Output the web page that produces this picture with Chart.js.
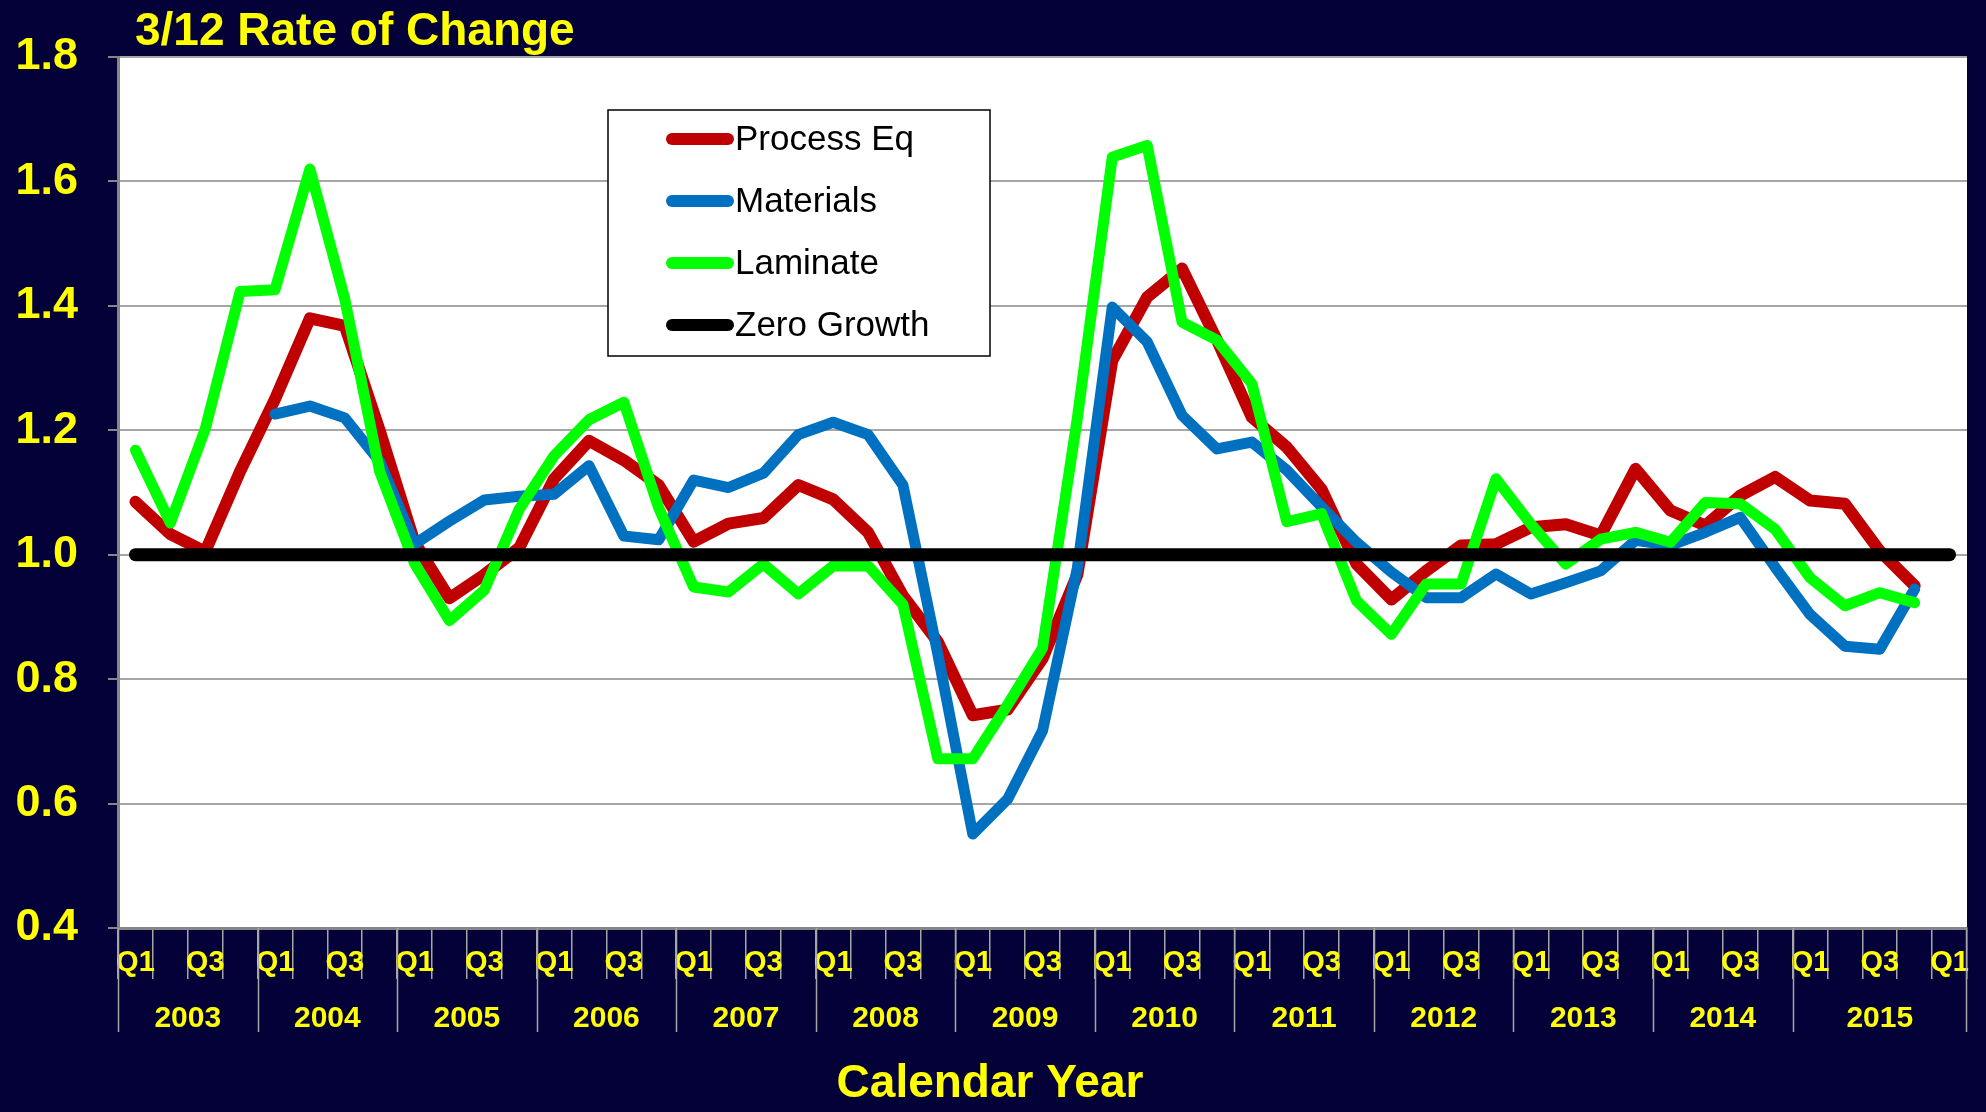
<!DOCTYPE html>
<html>
<head>
<meta charset="utf-8">
<title>3/12 Rate of Change</title>
<script src="https://cdn.jsdelivr.net/npm/chart.js@4.4.0/dist/chart.umd.min.js"></script>
<style>
  html, body { margin: 0; padding: 0; background: #040038; }
  #wrap { width: 1986px; height: 1112px; position: relative; }
</style>
</head>
<body>
<div id="wrap"><canvas id="rate-chart"></canvas></div>
<script>
const years = ['2003', '2004', '2005', '2006', '2007', '2008', '2009',
               '2010', '2011', '2012', '2013', '2014', '2015'];
const quarterNames = ['Q1', 'Q2', 'Q3', 'Q4'];
// last category is Q1 of the following year (grouped under 2015)
const extraQuarters = ['Q1'];

const processEq = [
    1.085, 1.033, 1.005, 1.134, 1.25, 1.38, 1.368, 1.20, 1.02, 0.93,
    0.968, 1.011, 1.122, 1.183, 1.152, 1.112, 1.021, 1.05, 1.059, 1.112,
    1.089, 1.036, 0.934, 0.86, 0.742, 0.751, 0.833, 0.968, 1.312, 1.414,
    1.46, 1.345, 1.221, 1.173, 1.105, 0.985, 0.928, 0.974, 1.015, 1.017,
    1.044, 1.049, 1.031, 1.138, 1.071, 1.047, 1.095, 1.125, 1.087, 1.082,
    1.006, 0.95, null
];
const materials = [
    null, null, null, null, 1.226, 1.239, 1.22, 1.15, 1.017, 1.054,
    1.088, 1.094, 1.097, 1.143, 1.03, 1.024, 1.12, 1.108, 1.131, 1.193,
    1.213, 1.193, 1.112, 0.84, 0.551, 0.607, 0.717, 0.979, 1.398, 1.342,
    1.224, 1.17, 1.181, 1.136, 1.077, 1.02, 0.972, 0.931, 0.931, 0.969,
    0.937, 0.955, 0.974, 1.023, 1.015, 1.036, 1.06, 0.98, 0.904, 0.853,
    0.848, 0.945, null
];
const laminate = [
    1.168, 1.051, 1.202, 1.423, 1.426, 1.62, 1.411, 1.134, 0.986, 0.894,
    0.943, 1.073, 1.159, 1.217, 1.245, 1.075, 0.948, 0.94, 0.985, 0.937,
    0.982, 0.982, 0.92, 0.672, 0.672, 0.759, 0.85, 1.22, 1.639, 1.658,
    1.374, 1.345, 1.275, 1.053, 1.066, 0.926, 0.872, 0.953, 0.953, 1.122,
    1.049, 0.985, 1.025, 1.036, 1.02, 1.084, 1.082, 1.041, 0.963, 0.918,
    0.939, 0.923, null
];
const zeroGrowth = [
    1, 1, 1, 1, 1, 1, 1, 1, 1, 1, 1, 1, 1, 1, 1, 1, 1, 1, 1, 1,
    1, 1, 1, 1, 1, 1, 1, 1, 1, 1, 1, 1, 1, 1, 1, 1, 1, 1, 1, 1,
    1, 1, 1, 1, 1, 1, 1, 1, 1, 1, 1, 1, 1
];

const NAVY = '#040038';
const YELLOW = '#FFFF00';
const FONT = "'Liberation Sans', Arial, sans-serif";

var quarterLabels = [];
years.forEach(function () {
    quarterNames.forEach(function (q) { quarterLabels.push(q); });
});
extraQuarters.forEach(function (q) { quarterLabels.push(q); });

function makeLine(label, data, color, width, order) {
    return {
        label: label,
        data: data,
        borderColor: color,
        backgroundColor: color,
        borderWidth: width,
        pointRadius: 0,
        borderCapStyle: 'round',
        borderJoinStyle: 'round',
        tension: 0,
        fill: false,
        order: order
    };
}

const framePlugin = {
    id: 'frame',
    beforeDraw(chart) {
        const ctx = chart.ctx, a = chart.chartArea;
        ctx.save();
        ctx.fillStyle = NAVY;
        ctx.fillRect(0, 0, chart.width, chart.height);
        ctx.fillStyle = '#FFFFFF';
        ctx.fillRect(a.left, a.top, a.right - a.left, a.bottom - a.top);
        ctx.restore();
    },
    afterDatasetsDraw(chart) {
        // legend box inside the plot area
        const ctx = chart.ctx;
        const box = { left: 608, top: 110, width: 382, height: 246 };
        ctx.save();
        ctx.fillStyle = '#FFFFFF';
        ctx.fillRect(box.left, box.top, box.width, box.height);
        ctx.strokeStyle = '#000000';
        ctx.lineWidth = 1.5;
        ctx.strokeRect(box.left, box.top, box.width, box.height);
        ctx.font = '35px ' + FONT;
        ctx.textBaseline = 'middle';
        ctx.textAlign = 'left';
        chart.data.datasets.forEach(function (ds, i) {
            const y = 139 + i * 62;
            ctx.strokeStyle = ds.borderColor;
            ctx.lineWidth = 12;
            ctx.lineCap = 'round';
            ctx.beginPath();
            ctx.moveTo(672, y);
            ctx.lineTo(728, y);
            ctx.stroke();
            ctx.fillStyle = '#000000';
            ctx.fillText(ds.label, 735, y + 1);
        });
        ctx.restore();
    },
    afterDraw(chart) {
        const ctx = chart.ctx, a = chart.chartArea;
        const xs = chart.scales.x;
        const half = (a.right - a.left) / quarterLabels.length / 2;
        ctx.save();
        // chart title
        ctx.fillStyle = YELLOW;
        ctx.font = 'bold 46px ' + FONT;
        ctx.textAlign = 'left';
        ctx.textBaseline = 'alphabetic';
        ctx.fillText('3/12 Rate of Change', 135, 45);

        // year separators and year labels
        ctx.strokeStyle = '#A6A6A6';
        ctx.lineWidth = 1.5;
        ctx.font = 'bold 30px ' + FONT;
        ctx.textAlign = 'center';
        years.forEach(function (yr, k) {
            const first = k * 4;
            const last = (k === years.length - 1) ? quarterLabels.length - 1 : first + 3;
            const x0 = xs.getPixelForValue(first) - half;
            const x1 = xs.getPixelForValue(last) + half;
            ctx.beginPath();
            ctx.moveTo(Math.round(x0) + 0.5, a.bottom);
            ctx.lineTo(Math.round(x0) + 0.5, a.bottom + 104);
            ctx.stroke();
            if (k === years.length - 1) {
                ctx.beginPath();
                ctx.moveTo(Math.round(x1) - 0.5, a.bottom);
                ctx.lineTo(Math.round(x1) - 0.5, a.bottom + 104);
                ctx.stroke();
            }
            ctx.fillText(yr, (x0 + x1) / 2, 1027);
        });

        // axis title
        ctx.font = 'bold 46px ' + FONT;
        ctx.fillText('Calendar Year', 990, 1097);
        ctx.restore();
    }
};

function drawChart() {
    var ctx = document.getElementById('rate-chart').getContext('2d');
    new Chart(ctx, {
        type: 'line',
        data: {
            labels: quarterLabels,
            datasets: [
                makeLine('Process Eq', processEq, '#C00000', 12, 3),
                makeLine('Materials', materials, '#0070C0', 11, 2),
                makeLine('Laminate', laminate, '#00FF00', 11, 1),
                makeLine('Zero Growth', zeroGrowth, '#000000', 13, 0)
            ]
        },
        options: {
            responsive: true,
            maintainAspectRatio: false,
            animation: false,
            layout: { padding: { top: 57, right: 19, left: 0, bottom: 0 } },
            plugins: {
                legend: { display: false },
                title: { display: false },
                tooltip: { enabled: false }
            },
            scales: {
                x: {
                    offset: true,
                    ticks: {
                        autoSkip: false,
                        maxRotation: 0,
                        minRotation: 0,
                        color: YELLOW,
                        font: { family: FONT, size: 29, weight: 'bold' },
                        padding: -33,
                        callback: function (v, i) {
                            return i % 2 === 0 ? this.getLabelForValue(v) : '';
                        }
                    },
                    grid: {
                        offset: true,
                        drawOnChartArea: false,
                        drawTicks: true,
                        tickLength: 51,
                        color: '#A6A6A6',
                        lineWidth: 1.5
                    },
                    border: { display: true, color: '#868686', width: 3 },
                    afterFit: function (s) { s.height = 184; }
                },
                y: {
                    min: 0.4,
                    max: 1.8,
                    ticks: {
                        stepSize: 0.2,
                        color: YELLOW,
                        font: { family: FONT, size: 45, weight: 'bold' },
                        padding: 30,
                        callback: function (v) { return Number(v).toFixed(1); }
                    },
                    grid: {
                        color: '#A6A6A6',
                        lineWidth: 2,
                        tickLength: 10,
                        tickColor: '#868686'
                    },
                    border: { display: true, color: '#868686', width: 3 },
                    afterFit: function (s) { s.width = 118; }
                }
            }
        },
        plugins: [framePlugin]
    });
}

window.onload = drawChart;
</script>
</body>
</html>
